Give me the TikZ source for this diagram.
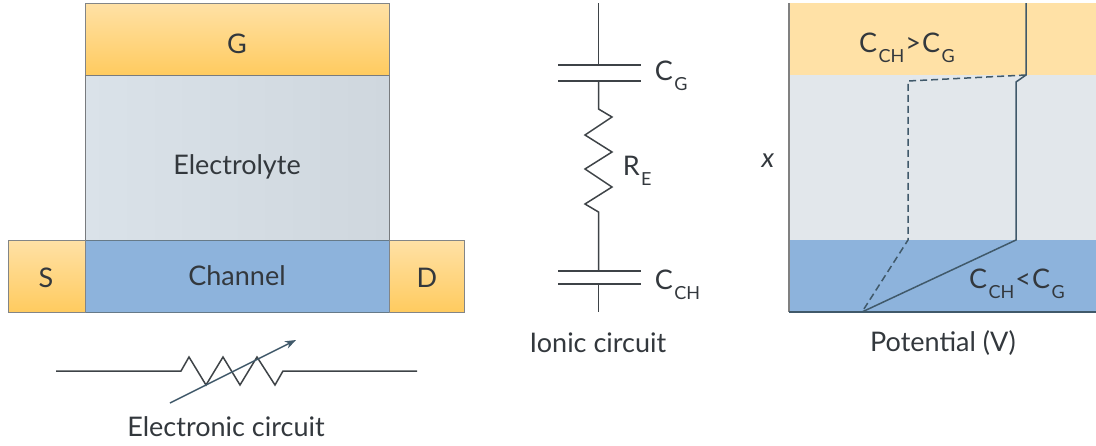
\documentclass[tikz,border=0pt]{standalone}
\usepackage{fontspec}
\setmainfont{Lato}
\usepackage{tikz}
\usetikzlibrary{arrows.meta}
\definecolor{inkgrey}{HTML}{33383D}
\definecolor{wiregrey}{HTML}{3E4347}
\definecolor{slate}{HTML}{40596A}
\definecolor{goldtop}{HTML}{FFE1A6}
\definecolor{goldbot}{HTML}{FFCB5F}
\definecolor{chanblue}{HTML}{8DB3DC}
\definecolor{elleft}{HTML}{DAE2E9}
\definecolor{elright}{HTML}{CFD7DE}
\definecolor{elpale}{HTML}{E2E7EB}
\newcommand{\lowtext}[2]{#1\kern1.5pt\raisebox{-0.7ex}{\fontsize{18}{18}\selectfont #2}}

\begin{document}
\begin{tikzpicture}[x=1pt, y=-1pt, line width=1.5pt,
	every node/.style={text=inkgrey, font=\fontsize{27}{27}\selectfont, inner sep=0pt},
	layer/.style={draw=#1, line width=0.9pt, minimum height=72pt},
	contact/.style={layer=wiregrey!65, top color=goldtop, bottom color=goldbot},
	band/.style={minimum width=307pt}]
	\useasboundingbox (0, 0) rectangle (1096, 445);
	% device stack
	\node[contact, minimum width=304pt](G) at (237, 39) {};
	\node[layer=wiregrey!70, minimum width=304pt, minimum height=165pt, left color=elleft, right color=elright](EL) at (237, 157.5) {};
	\node[layer=slate!80, minimum width=304pt, fill=chanblue](CH) at (237, 276) {};
	\node[contact, minimum width=77pt](S) at (46.5, 276) {};
	\node[contact, minimum width=75pt](D) at (426.5, 276) {};
	\node(Gt) at (237, 44) {G};
	\node(ELt) at (237, 167) {Electrolyte};
	\node(CHt) at (237, 276) {Channel};
	\node(St) at (46, 278) {S};
	\node(Dt) at (427, 278) {D};
	% electronic circuit
	\coordinate(WL) at (56, 371);
	\coordinate(RL) at (181, 371);
	\coordinate(RR) at (283, 371);
	\coordinate(WR) at (417, 371);
	\coordinate(AS) at (170, 403);
	\coordinate(AE) at (296, 340);
	\draw[wiregrey](WL) -- (RL) -- ++(8, -14) -- ++(17, 28) -- ++(17, -28) -- ++(17, 28) -- ++(17, -28) -- ++(18, 28) -- (RR) -- (WR);
	\draw[slate, -{Stealth[length=11pt, width=8pt]}](AS) -- (AE);
	\node(ECt) at (226, 427) {Electronic circuit};
	% ionic circuit
	\coordinate(IT) at (598.5, 3);
	\coordinate(P1) at (598.5, 65);
	\coordinate(P2) at (598.5, 81);
	\coordinate(R1) at (598.5, 109);
	\coordinate(R2) at (598.5, 212);
	\coordinate(P3) at (598.5, 271);
	\coordinate(P4) at (598.5, 284);
	\coordinate(IB) at (598.5, 312);
	\draw[wiregrey](IT) -- (P1);
	\draw[wiregrey](558, 65) -- (641, 65);
	\draw[wiregrey](558, 81) -- (641, 81);
	\draw[wiregrey](P2) -- (R1) -- ++(13.5, 8) -- ++(-27, 18) -- ++(27, 17) -- ++(-27, 17) -- ++(27, 18) -- ++(-27, 17) -- (R2) -- (P3);
	\draw[wiregrey](558, 271) -- (641, 271);
	\draw[wiregrey](558, 284) -- (641, 284);
	\draw[wiregrey](P4) -- (IB);
	\node[anchor=west](CGt) at (654, 76) {\lowtext{C}{G}};
	\node[anchor=west](REt) at (622, 171) {\lowtext{R}{E}};
	\node[anchor=west](CCHt) at (654, 285) {\lowtext{C}{CH}};
	\node(ICt) at (598, 343) {Ionic circuit};
	% potential profile
	\node[band, minimum height=72pt, fill=goldtop](PG) at (942.5, 39) {};
	\node[band, minimum height=165pt, fill=elpale](PE) at (942.5, 157.5) {};
	\node[band, minimum height=72pt, fill=chanblue](PC) at (942.5, 276) {};
	\coordinate(TL) at (789, 3);
	\coordinate(BL) at (789, 312);
	\coordinate(BR) at (1096, 312);
	\coordinate(V0) at (862, 312);
	\coordinate(V1) at (1026, 3);
	\coordinate(V2) at (1026, 75);
	\coordinate(V3) at (1016, 82);
	\coordinate(V4) at (1016, 240);
	\coordinate(V5) at (908, 81);
	\coordinate(V6) at (908, 240);
	\draw[gray](TL) -- (BL);
	\draw[slate](BL) -- (BR);
	\draw[slate](V1) -- (V2) -- (V3) -- (V4) -- (V0);
	\draw[slate, dash pattern=on 7pt off 4pt](V2) -- (V5) -- (V6) -- (V0);
	\node(GTt) at (907, 48) {\lowtext{C}{CH}\kern1pt>\kern1pt\lowtext{C}{G}};
	\node(LTt) at (1017, 284) {\lowtext{C}{CH}\kern1pt<\kern1pt\lowtext{C}{G}};
	\node(PVt) at (943, 343) {Potential (V)};
	\node(Xt) at (768, 161) {\itshape x};
\end{tikzpicture}
\end{document}
